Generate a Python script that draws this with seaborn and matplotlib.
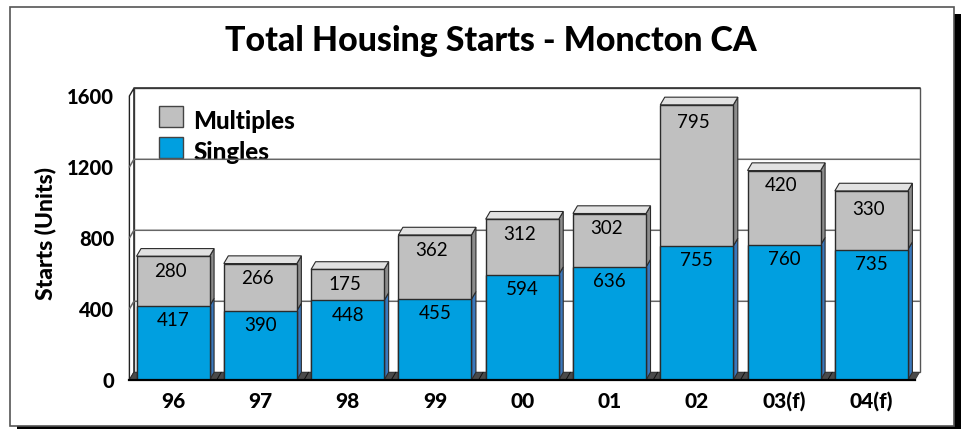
import matplotlib
matplotlib.use("Agg")
import matplotlib.pyplot as plt
from matplotlib.patches import Polygon, Rectangle, Patch
import seaborn as sns

years = ["96", "97", "98", "99", "00", "01", "02", "03(f)", "04(f)"]
singles = [417, 390, 448, 455, 594, 636, 755, 760, 735]
multiples = [280, 266, 175, 362, 312, 302, 795, 420, 330]
y_ticks = [0, 400, 800, 1200, 1600]

W, H = 961, 429
BLUE = "#009fe0"
GREY = "#c0c0c0"
EDGE = "#2b2b2b"
HEAVY = 900

sns.set_theme(style="white")
plt.rcParams["font.family"] = ["Lato", "DejaVu Sans"]

fig = plt.figure(figsize=(W / 100, H / 100), dpi=100, facecolor="white")

# outer frame with the hard shadow
fig.add_artist(Rectangle((17 / W, 0), (W - 17) / W, 4 / H, color="black", lw=0, zorder=-2))
fig.add_artist(Rectangle((954 / W, 0), 7 / W, (H - 14) / H, color="black", lw=0, zorder=-2))
fig.add_artist(Rectangle((10 / W, 1 - 426 / H), 944 / W, 419 / H, fc="white", ec="#555555", lw=1.2, zorder=-1))

# front plane of the chart, the depth is added by hand
ax = fig.add_axes([129.4 / W, 1 - 380 / H, 785.6 / W, 284 / H])
ax.patch.set_alpha(0)

totals = [s + m for s, m in zip(singles, multiples)]
sns.barplot(x=years, y=totals, color=GREY, width=0.837, saturation=1, edgecolor=EDGE, linewidth=1, ax=ax, zorder=3)
sns.barplot(x=years, y=singles, color=BLUE, width=0.837, saturation=1, edgecolor=EDGE, linewidth=1, ax=ax, zorder=3)
ax.set_xlim(-0.5, len(years) - 0.5)
ax.set_ylim(0, 1600)

dx = 4.5 / (785.6 / len(years))
dy = 7.7 / (284 / 1600)
x0, x1 = -0.5, len(years) - 0.5


def poly(pts, fc, ec=EDGE, lw=0.8, z=1):
    ax.add_patch(Polygon(pts, closed=True, fc=fc, ec=ec, lw=lw, zorder=z, clip_on=False))


# walls and floor
poly([(x0 + dx, dy), (x1 + dx, dy), (x1 + dx, 1600 + dy), (x0 + dx, 1600 + dy)], "white", ec="#555555", lw=1, z=0.5)
poly([(x0, 0), (x0 + dx, dy), (x0 + dx, 1600 + dy), (x0, 1600)], "white", ec="#222222", lw=1, z=0.6)
poly([(x0, 0), (x1, 0), (x1 + dx, dy), (x0 + dx, dy)], "#4a4a4a", ec="#333333", lw=0.6, z=1.5)
for i in range(1, len(years)):
    ax.plot([x0 + i, x0 + i + dx], [0, dy], color="#111111", lw=0.7, zorder=1.6, clip_on=False)

# gridlines run along the back wall and bend down the side wall
for t in y_ticks[1:-1]:
    ax.plot([x0, x0 + dx, x1 + dx], [t, t + dy, t + dy], color="#666666", lw=1.1, zorder=2, clip_on=False)
ax.plot([x0 + dx, x1 + dx], [1600 + dy, 1600 + dy], color="#333333", lw=1.2, zorder=2, clip_on=False)

# sides and tops of the bars
half = 0.837 / 2
for i, (s, t) in enumerate(zip(singles, totals)):
    l, r = i - half, i + half
    poly([(r, 0), (r + dx, dy), (r + dx, s + dy), (r, s)], "#3a78bd", z=2.8)
    poly([(r, s), (r + dx, s + dy), (r + dx, t + dy), (r, t)], "#8c8c8c", z=2.8)
    poly([(l, t), (r, t), (r + dx, t + dy), (l + dx, t + dy)], "#e2e2e2", z=2.8)

# value labels, the two tallest offsets sit a bit lower in the original
for i, (s, m, t) in enumerate(zip(singles, multiples, totals)):
    ax.annotate(str(s), (i, s), xytext=(0, -10.5), textcoords="offset points", ha="center", va="center",
                fontsize=13.5, color="black", zorder=5)
    drop = -13 if m in (795, 330) else -11
    ax.annotate(str(m), (i, t), xytext=(-2.2, drop), textcoords="offset points", ha="center", va="center",
                fontsize=13.5, color="black", zorder=5)

ax.set_yticks(y_ticks)
ax.set_yticklabels([str(t) for t in y_ticks], fontsize=14.5, fontweight=HEAVY, color="black")
ax.set_xticks(range(len(years)))
ax.set_xticklabels(years, fontsize=15, fontweight=HEAVY, color="black", va="baseline")
ax.tick_params(axis="y", length=0, pad=11)
ax.tick_params(axis="x", length=0, pad=20)
for side in ["top", "right", "left"]:
    ax.spines[side].set_visible(False)
ax.spines["bottom"].set_color("black")
ax.spines["bottom"].set_linewidth(1.6)
ax.spines["bottom"].set_zorder(4)
ax.set_xlabel("")
fig.text(45 / W, 1 - 234 / H, "Starts (Units)", rotation=90, ha="center", va="center",
         fontsize=16.5, fontweight=HEAVY, color="black")

leg = ax.legend(handles=[Patch(fc=GREY, ec="#444444", lw=1, label="Multiples"),
                         Patch(fc=BLUE, ec="#444444", lw=1, label="Singles")],
                loc="upper left", bbox_to_anchor=(159 / W, 1 - 106 / H), bbox_transform=fig.transFigure,
                frameon=False, borderpad=0, borderaxespad=0, handlelength=1.0,
                handleheight=0.95, handletextpad=0.42, labelspacing=0.32, labelcolor="black",
                prop={"weight": HEAVY, "size": 17.4})
leg.set_zorder(1.8)
for txt in leg.get_texts():
    txt.set_y(-4)

fig.text(491 / W, 1 - 41 / H, "Total Housing Starts - Moncton CA", ha="center", va="center",
         fontsize=24.4, fontweight=HEAVY, color="black")

fig.savefig("out.png", dpi=100)
